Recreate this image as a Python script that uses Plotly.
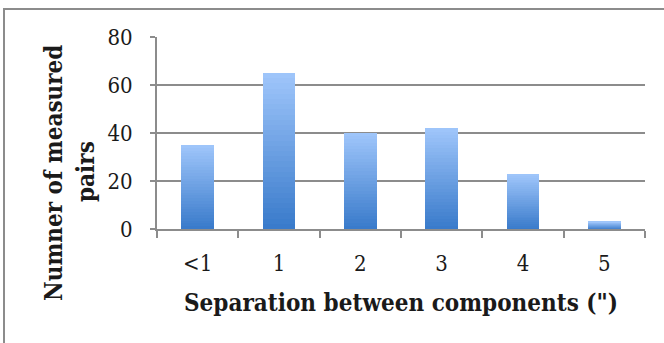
import plotly.graph_objects as go

categories = ["<1", "1", "2", "3", "4", "5"]
pairs = [35, 65, 40, 42, 23, 3]
y_ticks = [0, 20, 40, 60, 80]

W, H = 664, 343
L, R, T, B = 157, 19, 37, 114
PW, PH = W - L - R, H - T - B

def px_x(p):
    return (p - L) / PW

def px_y(p):
    return (H - B - p) / PH

FONT = "DejaVu Serif Condensed, DejaVu Serif, serif"
TFONT = "DejaVu Serif Condensed, DejaVu Serif, serif"
GRID = "#8C8C8C"
TXT = "#1a1a1a"

# vertical gradient per bar: bottom dark -> top light, built by stacking slices
N = 30
bottom = (58, 123, 203)
top = (158, 197, 250)

fig = go.Figure()
for i in range(N):
    t = i / (N - 1)
    c = tuple(round(bottom[k] + (top[k] - bottom[k]) * t) for k in range(3))
    fig.add_trace(go.Bar(
        x=categories,
        y=[v / N for v in pairs],
        marker=dict(color="rgb(%d,%d,%d)" % c, line=dict(width=0)),
        showlegend=False,
        hoverinfo="skip",
    ))

fig.update_layout(
    width=W, height=H,
    margin=dict(l=L, r=R, t=T, b=B, pad=0),
    barmode="stack",
    bargap=0.6,
    plot_bgcolor="white",
    paper_bgcolor="white",
    font=dict(family=FONT, color=TXT, size=22),
)

fig.update_xaxes(
    type="category",
    showline=True, linecolor=GRID, linewidth=2,
    ticks="outside", tickson="boundaries", ticklen=7, tickcolor=GRID, tickwidth=2,
    ticklabelstandoff=14,
    tickfont=dict(family=FONT, size=22, color=TXT),
    showgrid=False,
)
fig.update_yaxes(
    range=[0, 80], tickvals=y_ticks,
    showline=True, linecolor=GRID, linewidth=2,
    ticks="outside", ticklen=5, tickcolor=GRID, tickwidth=2,
    ticklabelstandoff=13,
    tickfont=dict(family=FONT, size=22, color=TXT),
    showgrid=True, gridcolor=GRID, gridwidth=2,
    zeroline=False,
)

fig.add_annotation(
    text="<b>Separation between components (\")</b>",
    xref="paper", yref="paper", x=px_x(401), y=px_y(302),
    xanchor="center", yanchor="middle", showarrow=False,
    font=dict(family=TFONT, size=24, color=TXT),
)
fig.add_annotation(
    text="<b>Numner of measured</b>",
    xref="paper", yref="paper", x=px_x(53), y=px_y(173),
    xanchor="center", yanchor="middle", showarrow=False, textangle=-90,
    font=dict(family=TFONT, size=24, color=TXT),
)
fig.add_annotation(
    text="<b>pairs</b>",
    xref="paper", yref="paper", x=px_x(85), y=px_y(172),
    xanchor="center", yanchor="middle", showarrow=False, textangle=-90,
    font=dict(family=TFONT, size=24, color=TXT),
)

# outer chart frame
fig.add_shape(
    type="rect", xref="paper", yref="paper",
    x0=px_x(4), x1=px_x(700), y0=px_y(400), y1=px_y(9),
    line=dict(color="#8C8C8C", width=2), fillcolor="rgba(0,0,0,0)", layer="below",
)

fig.write_html("out.html", post_script="document.body.style.margin='0';",
               config={"displayModeBar": False})
